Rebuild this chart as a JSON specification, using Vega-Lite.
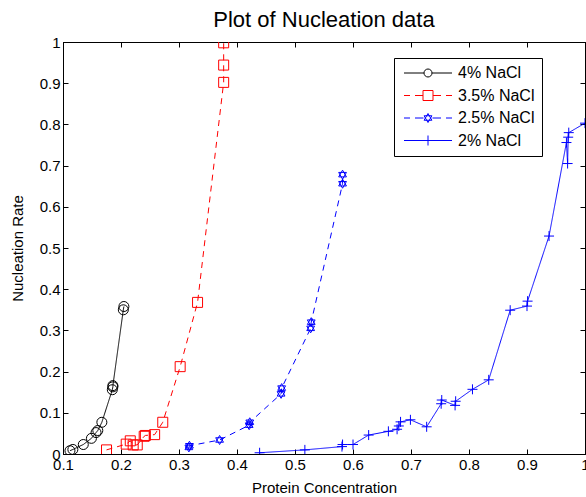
{
  "$schema": "https://vega.github.io/schema/vega-lite/v6.json",
  "width": 522,
  "height": 412,
  "autosize": {"type": "none"},
  "padding": {"left": 63, "top": 42, "right": 1, "bottom": 43},
  "background": "white",
  "title": {"text": "Plot of Nucleation data", "fontSize": 22, "fontWeight": "normal", "font": "Liberation Sans", "offset": -14, "baseline": "alphabetic", "anchor": "middle", "color": "black"},
  "data": {"values": [
    {"series": "4% NaCl", "x": 0.112, "y": 0.008},
    {"series": "4% NaCl", "x": 0.117, "y": 0.011},
    {"series": "4% NaCl", "x": 0.135, "y": 0.023},
    {"series": "4% NaCl", "x": 0.149, "y": 0.038},
    {"series": "4% NaCl", "x": 0.157, "y": 0.052},
    {"series": "4% NaCl", "x": 0.160, "y": 0.057},
    {"series": "4% NaCl", "x": 0.167, "y": 0.077},
    {"series": "4% NaCl", "x": 0.185, "y": 0.156},
    {"series": "4% NaCl", "x": 0.186, "y": 0.163},
    {"series": "4% NaCl", "x": 0.186, "y": 0.166},
    {"series": "4% NaCl", "x": 0.204, "y": 0.350},
    {"series": "4% NaCl", "x": 0.205, "y": 0.358},
    {"series": "3.5% NaCl", "x": 0.175, "y": 0.010},
    {"series": "3.5% NaCl", "x": 0.209, "y": 0.024},
    {"series": "3.5% NaCl", "x": 0.216, "y": 0.032},
    {"series": "3.5% NaCl", "x": 0.221, "y": 0.022},
    {"series": "3.5% NaCl", "x": 0.228, "y": 0.022},
    {"series": "3.5% NaCl", "x": 0.240, "y": 0.043},
    {"series": "3.5% NaCl", "x": 0.242, "y": 0.045},
    {"series": "3.5% NaCl", "x": 0.258, "y": 0.047},
    {"series": "3.5% NaCl", "x": 0.272, "y": 0.077},
    {"series": "3.5% NaCl", "x": 0.302, "y": 0.212},
    {"series": "3.5% NaCl", "x": 0.332, "y": 0.368},
    {"series": "3.5% NaCl", "x": 0.377, "y": 0.902},
    {"series": "3.5% NaCl", "x": 0.377, "y": 0.944},
    {"series": "3.5% NaCl", "x": 0.377, "y": 0.998},
    {"series": "2.5% NaCl", "x": 0.317, "y": 0.016},
    {"series": "2.5% NaCl", "x": 0.318, "y": 0.020},
    {"series": "2.5% NaCl", "x": 0.370, "y": 0.034},
    {"series": "2.5% NaCl", "x": 0.421, "y": 0.070},
    {"series": "2.5% NaCl", "x": 0.422, "y": 0.077},
    {"series": "2.5% NaCl", "x": 0.476, "y": 0.146},
    {"series": "2.5% NaCl", "x": 0.477, "y": 0.160},
    {"series": "2.5% NaCl", "x": 0.527, "y": 0.305},
    {"series": "2.5% NaCl", "x": 0.528, "y": 0.320},
    {"series": "2.5% NaCl", "x": 0.582, "y": 0.656},
    {"series": "2.5% NaCl", "x": 0.582, "y": 0.678},
    {"series": "2% NaCl", "x": 0.439, "y": 0.003},
    {"series": "2% NaCl", "x": 0.517, "y": 0.010},
    {"series": "2% NaCl", "x": 0.581, "y": 0.018},
    {"series": "2% NaCl", "x": 0.582, "y": 0.023},
    {"series": "2% NaCl", "x": 0.600, "y": 0.023},
    {"series": "2% NaCl", "x": 0.627, "y": 0.046},
    {"series": "2% NaCl", "x": 0.661, "y": 0.055},
    {"series": "2% NaCl", "x": 0.676, "y": 0.060},
    {"series": "2% NaCl", "x": 0.679, "y": 0.068},
    {"series": "2% NaCl", "x": 0.682, "y": 0.078},
    {"series": "2% NaCl", "x": 0.699, "y": 0.083},
    {"series": "2% NaCl", "x": 0.727, "y": 0.066},
    {"series": "2% NaCl", "x": 0.752, "y": 0.122},
    {"series": "2% NaCl", "x": 0.753, "y": 0.131},
    {"series": "2% NaCl", "x": 0.776, "y": 0.118},
    {"series": "2% NaCl", "x": 0.777, "y": 0.128},
    {"series": "2% NaCl", "x": 0.806, "y": 0.157},
    {"series": "2% NaCl", "x": 0.834, "y": 0.180},
    {"series": "2% NaCl", "x": 0.871, "y": 0.349},
    {"series": "2% NaCl", "x": 0.900, "y": 0.359},
    {"series": "2% NaCl", "x": 0.901, "y": 0.371},
    {"series": "2% NaCl", "x": 0.938, "y": 0.529},
    {"series": "2% NaCl", "x": 0.968, "y": 0.756},
    {"series": "2% NaCl", "x": 0.970, "y": 0.705},
    {"series": "2% NaCl", "x": 0.971, "y": 0.769},
    {"series": "2% NaCl", "x": 0.972, "y": 0.780},
    {"series": "2% NaCl", "x": 1.0, "y": 0.803}
  ]},
  "resolve": {
    "scale": {"shape": "independent", "color": "independent"},
    "axis": {"x": "independent", "y": "independent"}
  },
  "layer": [
    {
      "mark": {"type": "line", "strokeWidth": 1, "clip": true},
      "encoding": {
        "x": {"field": "x", "type": "quantitative", "scale": {"domain": [0.1, 1], "nice": false, "zero": false},
              "axis": {"orient": "bottom", "title": "Protein Concentration", "values": [0.1,0.2,0.3,0.4,0.5,0.6,0.7,0.8,0.9,1], "format": "~g", "titlePadding": 8}},
        "y": {"field": "y", "type": "quantitative", "scale": {"domain": [0, 1], "nice": false},
              "axis": {"orient": "left", "title": "Nucleation Rate", "values": [0,0.1,0.2,0.3,0.4,0.5,0.6,0.7,0.8,0.9,1], "format": "~g", "titlePadding": 14}},
        "color": {"field": "series", "type": "nominal", "scale": {"domain": ["4% NaCl","3.5% NaCl","2.5% NaCl","2% NaCl"], "range": ["#000000","#ff0000","#0000ff","#0000ff"]}, "legend": null},
        "strokeDash": {"field": "series", "type": "nominal", "scale": {"domain": ["4% NaCl","3.5% NaCl","2.5% NaCl","2% NaCl"], "range": [[1,0],[6,5],[6,5],[1,0]]}, "legend": null}
      }
    },
    {
      "mark": {"type": "point", "filled": false, "strokeWidth": 1, "size": 100, "opacity": 1, "clip": true},
      "encoding": {
        "x": {"field": "x", "type": "quantitative", "axis": null},
        "y": {"field": "y", "type": "quantitative", "axis": null},
        "color": {"field": "series", "type": "nominal", "scale": {"domain": ["4% NaCl","3.5% NaCl","2.5% NaCl","2% NaCl"], "range": ["#000000","#ff0000","#0000ff","#0000ff"]}, "legend": null},
        "shape": {"field": "series", "type": "nominal", "scale": {"domain": ["4% NaCl","3.5% NaCl","2.5% NaCl","2% NaCl"], "range": ["circle","square","M0,-0.9L0.779,0.45L-0.779,0.45ZM0,0.9L0.779,-0.45L-0.779,-0.45Z","M-1,0H1M0,-1V1"]}, "legend": null}
      }
    },
    {
      "transform": [{"filter": "datum.y > 5"}],
      "mark": {"type": "point", "filled": false, "strokeWidth": 1, "opacity": 1},
      "encoding": {
        "x": {"field": "x", "type": "quantitative", "axis": {"orient": "top", "labels": false, "title": null, "minExtent": 0, "maxExtent": 0, "values": [0.1,0.2,0.3,0.4,0.5,0.6,0.7,0.8,0.9,1]}},
        "y": {"field": "y", "type": "quantitative", "axis": {"orient": "right", "labels": false, "title": null, "minExtent": 0, "maxExtent": 0, "values": [0,0.1,0.2,0.3,0.4,0.5,0.6,0.7,0.8,0.9,1]}},
        "color": {"field": "series", "type": "nominal", "scale": {"domain": ["4% NaCl","3.5% NaCl","2.5% NaCl","2% NaCl"], "range": ["#000000","#ff0000","#0000ff","#0000ff"]},
                  "legend": {"orient": "none", "legendX": 331, "legendY": 16, "title": null, "strokeColor": "black", "fillColor": "white", "padding": 7, "symbolOffset": 19, "labelOffset": 22, "labelFontSize": 16, "labelFont": "Liberation Sans", "labelColor": "black", "symbolSize": 100, "symbolStrokeWidth": 1, "rowPadding": 6.5, "cornerRadius": 0}},
        "shape": {"field": "series", "type": "nominal", "scale": {"domain": ["4% NaCl","3.5% NaCl","2.5% NaCl","2% NaCl"], "range": [
          "M-4.8,0H-0.8M0.8,0H4.8M0.8,0A0.8,0.8,0,1,1,-0.8,0A0.8,0.8,0,1,1,0.8,0",
          "M-4.8,0H-3.6M-2.6,0H-1M1,0H2.6M3.6,0H4.8M-1,-1H1V1H-1Z",
          "M-4.8,0H-3.6M-2.6,0H-0.9M0.9,0H2.6M3.6,0H4.8M0,-0.9L0.779,0.45L-0.779,0.45ZM0,0.9L0.779,-0.45L-0.779,-0.45Z",
          "M-4.8,0H4.8M0,-1V1"]},
                  "legend": {"orient": "none", "legendX": 331, "legendY": 16, "title": null}}
      }
    }
  ],
  "config": {
    "font": "Liberation Sans",
    "view": {"stroke": "black", "strokeWidth": 1},
    "axis": {"grid": false, "domainColor": "black", "domainWidth": 1, "tickColor": "black", "tickWidth": 1, "tickSize": -5, "labelPadding": 8, "labelFontSize": 15, "labelColor": "black", "labelFont": "Liberation Sans", "titleFont": "Liberation Sans", "titleFontSize": 15, "titleFontWeight": "normal", "titleColor": "black", "labelFlush": false, "labelOverlap": false}
  }
}
